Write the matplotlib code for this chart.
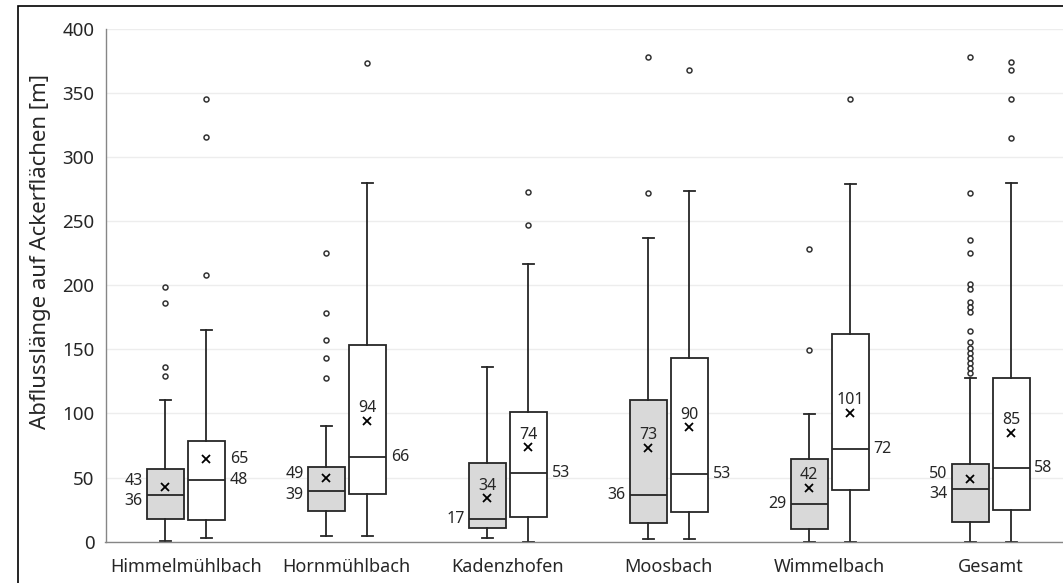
import matplotlib
matplotlib.use("Agg")
import matplotlib.pyplot as plt
from matplotlib.patches import Rectangle

plt.rcParams['font.family'] = ['Noto Sans', 'DejaVu Sans']

categories = ["Himmelmühlbach", "Hornmühlbach", "Kadenzhofen", "Moosbach", "Wimmelbach", "Gesamt"]

# Series A (grey boxes)
q1_a = [17.6, 24.1, 10.4, 14.8, 10.1, 15.6]
med_a = [36.2, 39.3, 17.6, 36.3, 29.1, 40.7]
q3_a = [57.0, 58.1, 61.7, 110.7, 64.7, 60.7]
lo_a = [0.7, 4.5, 2.8, 1.8, 0.0, 0.0]
hi_a = [110.4, 90.4, 136.0, 236.5, 99.7, 127.6]
mean_a = [42.7, 49.5, 33.9, 73.1, 42.1, 49.0]
fliers_a = [
    [198.2, 186.1, 136.3, 129.5],
    [225.3, 178.5, 157.1, 143.2, 127.4],
    [],
    [377.6, 271.5],
    [228.3, 149.1],
    [377.5, 271.5, 235.3, 225.4, 200.9, 196.8, 186.9, 182.6, 178.8, 164.0,
     155.3, 151.0, 147.0, 143.1, 139.2, 135.3, 131.5],
]
mean_lbl_a = [43, 49, 34, 73, 42, 50]
med_lbl_a = [36, 39, 17, 36, 29, 34]

# Series B (white boxes)
q1_b = [16.8, 37.5, 19.4, 23.1, 40.0, 24.6]
med_b = [48.4, 66.4, 53.4, 52.4, 71.9, 57.6]
q3_b = [78.5, 153.3, 101.3, 143.1, 162.1, 127.6]
lo_b = [2.8, 4.5, 0.0, 1.8, 0.0, 0.0]
hi_b = [165.1, 279.6, 216.6, 273.3, 279.0, 279.2]
mean_b = [64.8, 94.2, 73.8, 89.2, 100.5, 84.8]
fliers_b = [
    [345.0, 315.4, 208.1],
    [373.3],
    [272.8, 247.2],
    [367.9],
    [345.0],
    [373.7, 367.7, 345.0, 314.9],
]
mean_lbl_b = [65, 94, 74, 90, 101, 85]
med_lbl_b = [48, 66, 53, 53, 72, 58]

y_ticks = [0, 50, 100, 150, 200, 250, 300, 350, 400]
y_title = "Abflusslänge auf Ackerflächen [m]"

# label placement styles
mean_pos_a = ['left', 'left', 'above', 'above', 'above', 'left']
mean_pos_b = ['right', 'above', 'above', 'above', 'above', 'above']

W, H, DPI = 1063, 583, 100
fig = plt.figure(figsize=(W / DPI, H / DPI), dpi=DPI)
ax = fig.add_axes([105.5 / W, (H - 541.7) / H, (1071 - 105.5) / W, (541.7 - 28.5) / H])

line_c = '#262626'
box_w = 0.23
off = 0.1274

def stats(q1, med, q3, lo, hi, mean, fl):
    out = []
    for i in range(len(q1)):
        out.append(dict(q1=q1[i], med=med[i], q3=q3[i], whislo=lo[i], whishi=hi[i],
                        mean=mean[i], fliers=fl[i]))
    return out

common = dict(widths=box_w, patch_artist=True, showmeans=True, meanline=False,
              capwidths=0.068,
              medianprops=dict(color=line_c, lw=1.3),
              whiskerprops=dict(color=line_c, lw=1.3),
              capprops=dict(color=line_c, lw=1.3),
              flierprops=dict(marker='o', markersize=3.6, markerfacecolor='white',
                              markeredgecolor='#333333', markeredgewidth=1.1, linestyle='none'),
              meanprops=dict(marker='x', markersize=5.5, markeredgecolor='black',
                             markeredgewidth=1.3, markerfacecolor='black'))

n = len(categories)
pos_a = [i - off for i in range(n)]
pos_b = [i + off for i in range(n)]
ax.bxp(stats(q1_a, med_a, q3_a, lo_a, hi_a, mean_a, fliers_a), positions=pos_a,
       boxprops=dict(facecolor='#d9d9d9', edgecolor=line_c, lw=1.3), **common)
ax.bxp(stats(q1_b, med_b, q3_b, lo_b, hi_b, mean_b, fliers_b), positions=pos_b,
       boxprops=dict(facecolor='white', edgecolor=line_c, lw=1.3), **common)

fs_lbl = 11.5
min_sep = 16.0

def place(x, mean, med, mlbl, dlbl, mean_mode, side):
    ym, yd = mean, med
    if mean_mode == side and abs(mean - med) < min_sep:
        c = (mean + med) / 2
        sgn = 1 if mean >= med else -1
        ym = c + sgn * min_sep / 2
        yd = c - sgn * min_sep / 2
    edge = x - box_w / 2 if side == 'left' else x + box_w / 2
    dx = -3 if side == 'left' else 3.5
    ha = 'right' if side == 'left' else 'left'
    ax.annotate(str(dlbl), (edge, yd), xytext=(dx, 0), textcoords='offset points',
                ha=ha, va='center', fontsize=fs_lbl, color='#262626')
    if mean_mode == 'above':
        ax.annotate(str(mlbl), (x, mean), xytext=(0, 9), textcoords='offset points',
                    ha='center', va='center', fontsize=fs_lbl, color='#262626')
    else:
        ax.annotate(str(mlbl), (edge, ym), xytext=(dx, 0), textcoords='offset points',
                    ha=ha, va='center', fontsize=fs_lbl, color='#262626')

for i in range(n):
    place(pos_a[i], mean_a[i], med_a[i], mean_lbl_a[i], med_lbl_a[i], mean_pos_a[i], 'left')
    place(pos_b[i], mean_b[i], med_b[i], mean_lbl_b[i], med_lbl_b[i], mean_pos_b[i], 'right')

ax.set_xlim(-0.5, n - 0.5)
ax.set_ylim(0, 400)
ax.set_xticks(range(n))
ax.set_xticklabels(categories, fontsize=13, color='#262626')
ax.set_yticks(y_ticks)
ax.set_yticklabels([str(v) for v in y_ticks], fontsize=13.5, color='#262626')
ax.tick_params(axis='both', length=0)
ax.tick_params(axis='y', pad=8)
ax.tick_params(axis='x', pad=11.5)
ax.grid(axis='y', color='#ededed', lw=1)
ax.set_axisbelow(True)
for s in ['top', 'right']:
    ax.spines[s].set_visible(False)
for s in ['left', 'bottom']:
    ax.spines[s].set_color('#868686')
    ax.spines[s].set_linewidth(1.0)
ax.set_ylabel(y_title, fontsize=16, color='#262626')
ax.yaxis.set_label_coords(-0.056, 0.565)

# outer frame (cropped on right and bottom)
fig.patches.append(Rectangle((17.5 / W, -0.2), 1.5, 1.2 - 6 / H, transform=fig.transFigure,
                             fill=False, edgecolor='black', lw=1.2, clip_on=False))

fig.savefig("out.png", dpi=DPI)
